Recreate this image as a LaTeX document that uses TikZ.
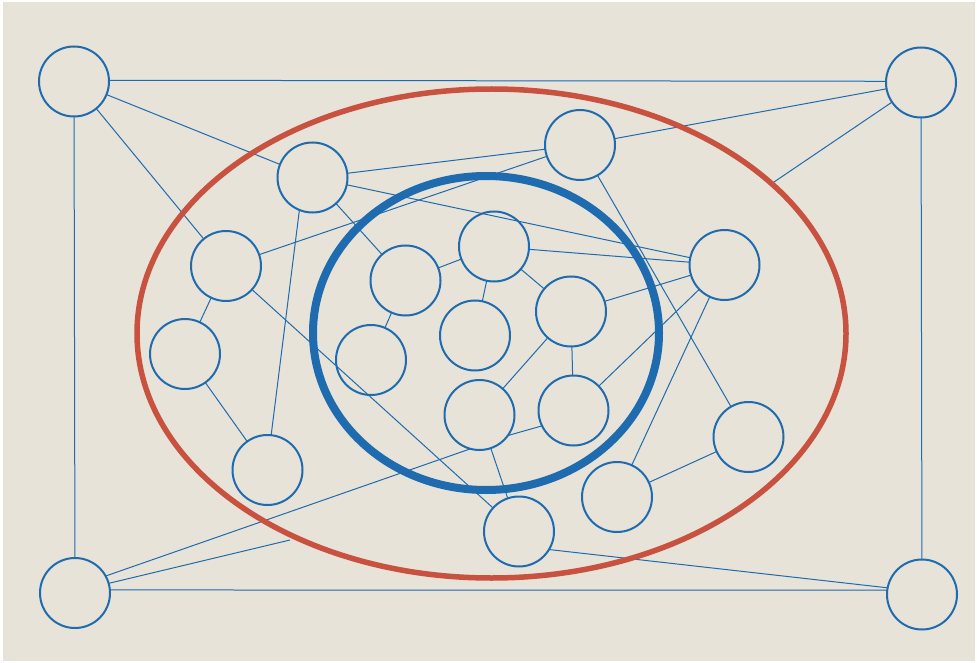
\documentclass[tikz,border=0pt]{standalone}
\definecolor{bg}{HTML}{E7E3D8}
\definecolor{nblue}{HTML}{1F6BAF}
\definecolor{nred}{HTML}{C8523F}
\begin{document}
\begin{tikzpicture}[x=1pt,y=-1pt,
  vert/.style={circle,draw=nblue,line width=2pt,minimum size=70pt,inner sep=0pt,outer sep=0pt},
  link/.style={draw=nblue,line width=1pt}]
\fill[white] (0,0) rectangle (977,663);
\fill[bg] (3,2) rectangle (975,661);
\useasboundingbox (0,0) rectangle (977,663);
% corner nodes
\node[vert] (TL) at (74,81.5) {};
\node[vert] (TR) at (921,82.5) {};
\node[vert] (BL) at (75,593) {};
\node[vert] (BR) at (922,594.5) {};
% middle ring
\node[vert] (A) at (312.5,177.5) {};
\node[vert] (B) at (580,145) {};
\node[vert] (C) at (226,266) {};
\node[vert] (D) at (185,354) {};
\node[vert] (E) at (267.5,470) {};
\node[vert] (F) at (724.5,265) {};
\node[vert] (G) at (748.5,437) {};
\node[vert] (H) at (617,497) {};
\node[vert] (I) at (519,531.5) {};
% inner cluster
\node[vert] (J) at (405.5,280.5) {};
\node[vert] (K) at (494,246.5) {};
\node[vert] (L) at (571,311.5) {};
\node[vert] (M) at (475,335.5) {};
\node[vert] (N) at (371,360) {};
\node[vert] (O) at (479.5,415) {};
\node[vert] (P) at (573.5,410.5) {};
% free ends on the outer ellipse
\coordinate (te) at (774,182);
\coordinate (be) at (290,540);
% connectors
\draw[link] (TL.2) -- (TR.178);
\draw[link] (TL) -- (BL);
\draw[link] (TR) -- (BR);
\draw[link] (BL.5) -- (BR.173);
\draw[link] (TL) -- (A);
\draw[link] (TL) -- (C);
\draw[link] (TR) -- (B);
\draw[link] (TR) -- (te);
\draw[link] (BL.16) -- (be);
\draw[link] (BL.29) -- (O.255);
\draw[link] (I.-31) -- (BR.169);
\draw[link] (A) -- (B);
\draw[link] (A) -- (F);
\draw[link] (A) -- (J);
\draw[link] (A.248) -- (E.84);
\draw[link] (C) -- (B);
\draw[link] (C) -- (D);
\draw[link] (C) -- (I);
\draw[link] (D) -- (E);
\draw[link] (J) -- (N);
\draw[link] (J) -- (K);
\draw[link] (K) -- (M);
\draw[link] (K) -- (L);
\draw[link] (K) -- (F);
\draw[link] (L) -- (F);
\draw[link] (L) -- (P);
\draw[link] (L) -- (O);
\draw[link] (P) -- (F);
\draw[link] (O.-36) -- (P.206);
\draw[link] (O) -- (I);
\draw[link] (B) -- (G);
\draw[link] (F) -- (H);
\draw[link] (H) -- (G);
% cluster outlines
\draw[nred,line width=5.5pt] (491.5,333.5) ellipse [x radius=354.5pt, y radius=244.5pt];
\draw[nblue,line width=8pt] (486,333) ellipse [x radius=173pt, y radius=157pt];
\end{tikzpicture}
\end{document}
